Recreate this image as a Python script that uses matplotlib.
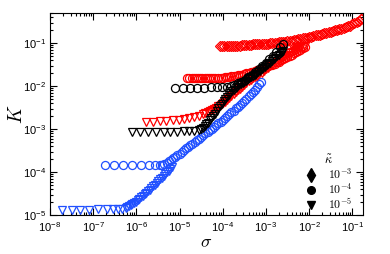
import numpy as np
import matplotlib
matplotlib.use('Agg')
import matplotlib.pyplot as plt
from matplotlib.lines import Line2D
from matplotlib.ticker import LogLocator, NullFormatter

plt.rcParams.update({'font.size': 8, 'mathtext.fontset': 'cm',
                     'font.family': 'Liberation Sans'})

# values, stored as log10(sigma), log10(K)
# red, kappa = 1e-3 (diamonds)
red_d_ls = [-4.06, -4.01, -3.96, -3.91, -3.86, -3.81, -3.76, -3.71, -3.66, -3.61,
            -3.55, -3.50, -3.45, -3.40, -3.35, -3.30, -3.25, -3.20, -3.15, -3.10,
            -3.05, -3.00, -2.95, -2.90, -2.85, -2.80, -2.75, -2.70, -2.65, -2.60,
            -2.55, -2.50, -2.45, -2.40, -2.35, -2.30, -2.25, -2.20, -2.15, -2.10,
            -2.05, -2.00, -1.95, -1.90, -1.85, -1.80, -1.75, -1.70, -1.65, -1.60,
            -1.55, -1.50, -1.45, -1.40, -1.35, -1.30, -1.25, -1.20, -1.15, -1.10,
            -1.05, -1.00, -0.95, -0.90, -0.85, -0.80, -0.77]
red_d_lk = [-1.06, -1.06, -1.06, -1.06, -1.06, -1.06, -1.06, -1.06, -1.06, -1.06,
            -1.05, -1.05, -1.05, -1.04, -1.04, -1.03, -1.03, -1.03, -1.02, -1.02,
            -1.02, -1.01, -1.01, -1.00, -1.00, -0.99, -0.99, -0.98, -0.98, -0.97,
            -0.97, -0.96, -0.95, -0.94, -0.93, -0.92, -0.91, -0.90, -0.89, -0.88,
            -0.87, -0.86, -0.85, -0.84, -0.82, -0.81, -0.80, -0.78, -0.77, -0.76,
            -0.74, -0.73, -0.72, -0.70, -0.69, -0.68, -0.66, -0.65, -0.63, -0.61,
            -0.59, -0.56, -0.54, -0.51, -0.48, -0.44, -0.42]

# red, kappa = 1e-4 (circles)
red_o_ls = [-4.82, -4.77, -4.72, -4.67, -4.62, -4.57, -4.52, -4.47, -4.42, -4.37,
            -4.32, -4.27, -4.22, -4.17, -4.12, -4.05, -4.00, -3.95, -3.90, -3.85,
            -3.80, -3.75, -3.70, -3.65, -3.60, -3.55, -3.50, -3.45, -3.40, -3.35,
            -3.30, -3.25, -3.20, -3.15, -3.10, -3.05, -3.00, -2.95, -2.90, -2.85,
            -2.80, -2.75, -2.70, -2.65, -2.60, -2.55, -2.50, -2.45, -2.40, -2.35,
            -2.30, -2.25, -2.20, -2.15, -2.10]
red_o_lk = [-1.81, -1.81, -1.81, -1.81, -1.81, -1.81, -1.81, -1.81, -1.81, -1.81,
            -1.81, -1.81, -1.81, -1.81, -1.81, -1.80, -1.80, -1.79, -1.79, -1.78,
            -1.77, -1.76, -1.76, -1.75, -1.74, -1.73, -1.72, -1.70, -1.69, -1.67,
            -1.66, -1.65, -1.63, -1.62, -1.60, -1.58, -1.56, -1.54, -1.52, -1.50,
            -1.48, -1.45, -1.43, -1.40, -1.37, -1.35, -1.33, -1.30, -1.27, -1.24,
            -1.21, -1.18, -1.15, -1.12, -1.08]

# red, kappa = 1e-5 (triangles)
red_v_ls = [-5.77, -5.61, -5.46, -5.31, -5.16, -5.02, -4.89, -4.77, -4.66, -4.55,
            -4.45, -4.40, -4.35, -4.30, -4.25, -4.20, -4.15, -4.10, -4.05, -4.00,
            -3.95, -3.90, -3.85, -3.80, -3.75, -3.70, -3.65, -3.60, -3.55, -3.50,
            -3.45, -3.40, -3.35, -3.30, -3.25, -3.20, -3.15, -3.10, -3.05, -3.00,
            -2.95, -2.90, -2.85, -2.80, -2.75, -2.70, -2.65, -2.60, -2.55, -2.50,
            -2.45, -2.40, -2.35, -2.30, -2.25, -2.20, -2.15, -2.10]
red_v_lk = [-2.83, -2.83, -2.81, -2.81, -2.80, -2.79, -2.77, -2.74, -2.72, -2.69,
            -2.66, -2.63, -2.60, -2.58, -2.56, -2.53, -2.50, -2.46, -2.43, -2.39,
            -2.36, -2.32, -2.28, -2.23, -2.19, -2.14, -2.10, -2.06, -2.02, -1.97,
            -1.93, -1.89, -1.85, -1.82, -1.79, -1.76, -1.72, -1.69, -1.65, -1.61,
            -1.57, -1.54, -1.50, -1.46, -1.43, -1.39, -1.36, -1.33, -1.30, -1.27,
            -1.24, -1.21, -1.18, -1.16, -1.13, -1.11, -1.09, -1.07]

# black, kappa = 1e-4 (circles)
blk_o_ls = [-5.10, -4.92, -4.75, -4.59, -4.43, -4.28, -4.14, -4.01, -3.91, -3.81,
            -3.73, -3.65, -3.57, -3.49, -3.41, -3.33, -3.25, -3.16, -3.08, -3.00,
            -2.92, -2.84, -2.76, -2.68, -2.60]
blk_o_lk = [-2.05, -2.05, -2.05, -2.05, -2.05, -2.03, -2.03, -2.02, -2.01, -1.99,
            -1.97, -1.93, -1.90, -1.85, -1.79, -1.73, -1.67, -1.60, -1.53, -1.47,
            -1.37, -1.29, -1.20, -1.10, -1.01]

# black, kappa = 1e-5 (triangles)
blk_v_ls = [-6.09, -5.91, -5.72, -5.55, -5.37, -5.21, -5.05, -4.90, -4.77, -4.66,
            -4.55, -4.50, -4.46, -4.42, -4.38, -4.34, -4.30, -4.26, -4.22, -4.18,
            -4.14, -4.10, -4.06, -4.02, -3.98, -3.94, -3.90, -3.86, -3.82, -3.78,
            -3.74, -3.70, -3.66, -3.62, -3.58, -3.54, -3.50, -3.46, -3.42, -3.38,
            -3.34, -3.30, -3.26, -3.22, -3.18, -3.14, -3.10, -3.06, -3.02, -2.98,
            -2.94, -2.90, -2.86, -2.82, -2.78, -2.74, -2.70, -2.66, -2.62, -2.60]
blk_v_lk = [-3.06, -3.06, -3.06, -3.06, -3.06, -3.06, -3.06, -3.05, -3.05, -3.04,
            -3.02, -3.00, -2.97, -2.93, -2.89, -2.85, -2.80, -2.74, -2.69, -2.64,
            -2.58, -2.52, -2.47, -2.41, -2.35, -2.30, -2.25, -2.20, -2.16, -2.12,
            -2.08, -2.04, -2.01, -1.98, -1.95, -1.92, -1.90, -1.87, -1.84, -1.81,
            -1.79, -1.76, -1.73, -1.71, -1.68, -1.64, -1.61, -1.58, -1.55, -1.52,
            -1.49, -1.46, -1.42, -1.38, -1.34, -1.30, -1.27, -1.23, -1.20, -1.19]

# blue, kappa = 1e-4 (circles)
blu_o_ls = [-6.72, -6.51, -6.30, -6.09, -5.88, -5.70, -5.56, -5.45, -5.40,
            -5.35, -5.30, -5.25, -5.20, -5.15, -5.10, -5.05, -5.00, -4.95, -4.90,
            -4.85, -4.80, -4.75, -4.70, -4.65, -4.60, -4.55, -4.50, -4.45, -4.40,
            -4.35, -4.30, -4.25, -4.20, -4.15, -4.10, -4.05, -4.00, -3.95, -3.90,
            -3.85, -3.80, -3.75, -3.70, -3.65, -3.60, -3.55, -3.50, -3.45, -3.40,
            -3.35, -3.30, -3.25, -3.20, -3.15, -3.12]
blu_o_lk = [-3.84, -3.84, -3.84, -3.84, -3.84, -3.84, -3.84, -3.83, -3.83,
            -3.81, -3.78, -3.75, -3.72, -3.68, -3.65, -3.61, -3.57, -3.53, -3.49,
            -3.45, -3.42, -3.38, -3.34, -3.30, -3.26, -3.22, -3.18, -3.14, -3.10,
            -3.06, -3.03, -2.99, -2.95, -2.91, -2.87, -2.83, -2.79, -2.74, -2.70,
            -2.66, -2.61, -2.57, -2.52, -2.48, -2.44, -2.39, -2.34, -2.29, -2.24,
            -2.19, -2.14, -2.08, -2.02, -1.95, -1.90]

# blue, kappa = 1e-5 (triangles)
blu_v_ls = [-7.71, -7.50, -7.30, -7.09, -6.89, -6.68, -6.53, -6.42, -6.33, -6.25,
            -6.21, -6.17, -6.13, -6.09, -6.05, -6.01, -5.97, -5.93, -5.89, -5.85,
            -5.81, -5.77, -5.73, -5.69, -5.65, -5.61, -5.57, -5.53, -5.49, -5.45,
            -5.41, -5.37, -5.33, -5.29, -5.25, -5.21, -5.17]
blu_v_lk = [-4.88, -4.88, -4.88, -4.88, -4.87, -4.87, -4.86, -4.86, -4.85, -4.84,
            -4.82, -4.80, -4.77, -4.75, -4.72, -4.69, -4.66, -4.63, -4.59, -4.56,
            -4.52, -4.49, -4.45, -4.41, -4.37, -4.33, -4.29, -4.25, -4.21, -4.17,
            -4.13, -4.09, -4.05, -4.01, -3.97, -3.93, -3.89]

kappa_labels = [r'$10^{-3}$', r'$10^{-4}$', r'$10^{-5}$']

RED = '#ff0000'
BLUE = '#2050ff'

series = [
    (blu_v_ls, blu_v_lk, BLUE, 'v', 6.0),
    (blu_o_ls, blu_o_lk, BLUE, 'o', 5.8),
    (red_v_ls, red_v_lk, RED, 'v', 6.0),
    (red_o_ls, red_o_lk, RED, 'o', 5.8),
    (red_d_ls, red_d_lk, RED, 'D', 4.8),
    (blk_v_ls, blk_v_lk, 'k', 'v', 6.0),
    (blk_o_ls, blk_o_lk, 'k', 'o', 5.8),
]

fig = plt.figure(figsize=(3.9, 2.54), dpi=100)
ax = fig.add_axes([0.128, 0.1535, 0.803, 0.795])

for ls, lk, c, m, ms in series:
    ax.plot(10**np.array(ls), 10**np.array(lk), ls='none', marker=m, ms=ms,
            mfc='none', mec=c, mew=0.9)

ax.set_xscale('log')
ax.set_yscale('log')
ax.set_xlim(1e-8, 10**-0.75)
ax.set_ylim(1e-5, 10**-0.30)

for axis in (ax.xaxis, ax.yaxis):
    axis.set_major_locator(LogLocator(base=10, numticks=20))
    axis.set_minor_locator(LogLocator(base=10, subs=np.arange(2, 10), numticks=20))
    axis.set_minor_formatter(NullFormatter())

ax.tick_params(which='both', direction='in', top=True, right=True, width=0.8)
ax.tick_params(which='major', length=5)
ax.tick_params(which='minor', length=2.5)
ax.tick_params(axis='x', pad=4)
ax.tick_params(axis='y', pad=2.5)

ax.set_xlabel(r'$\sigma$', fontsize=13, labelpad=0)
ax.set_ylabel(r'$K$', fontsize=14, labelpad=-2)

handles = [Line2D([], [], ls='none', marker='d', color='k', ms=7),
           Line2D([], [], ls='none', marker='o', color='k', ms=5.5),
           Line2D([], [], ls='none', marker='v', color='k', ms=6)]
leg = ax.legend(handles, kappa_labels, title=r'$\tilde{\kappa}$', loc='lower left',
                bbox_to_anchor=(0.815, 0.015), frameon=False, fontsize=8.5,
                title_fontsize=9, handlelength=1.0, handletextpad=0.9,
                labelspacing=0.0, borderpad=0.0, borderaxespad=0.0)

fig.savefig('out.png', dpi=100)
